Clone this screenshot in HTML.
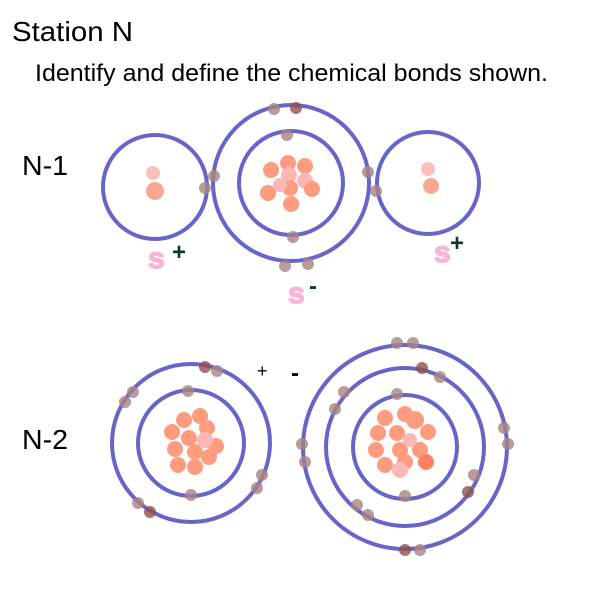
<!DOCTYPE html>
<html><head><style>body{margin:0;background:#fff}svg{display:block}</style></head><body>
<svg width="600" height="600" xmlns="http://www.w3.org/2000/svg" font-family="Liberation Sans, sans-serif">
<text x="12" y="41" font-size="28" textLength="121" lengthAdjust="spacingAndGlyphs">Station N</text>
<text x="35" y="81" font-size="24" textLength="513" lengthAdjust="spacingAndGlyphs">Identify and define the chemical bonds shown.</text>
<text x="22" y="175" font-size="28" textLength="46" lengthAdjust="spacingAndGlyphs">N-1</text>
<text x="22" y="449" font-size="28" textLength="46" lengthAdjust="spacingAndGlyphs">N-2</text>
<g fill="none" stroke="#6666c8" stroke-width="4">
<circle cx="155" cy="187" r="52"/>
<circle cx="291" cy="183" r="78"/>
<circle cx="291" cy="183" r="52"/>
<circle cx="428" cy="183" r="51"/>
<circle cx="191" cy="443" r="79"/>
<circle cx="191" cy="443" r="53"/>
<circle cx="405" cy="447" r="52"/>
<circle cx="405" cy="447" r="79"/>
<circle cx="405" cy="447" r="102"/>
</g>
<g fill="#f79a7e" opacity="0.85">
<circle cx="153" cy="173" r="7" fill="#fbb6b0"/>
<circle cx="155" cy="191" r="9"/>
<circle cx="428" cy="169" r="7" fill="#fbb6b0"/>
<circle cx="431" cy="186" r="8"/>
</g>
<g fill="#ff7a55" opacity="0.75">
<circle cx="288" cy="163" r="8"/><circle cx="271" cy="170" r="8"/><circle cx="305" cy="166" r="8"/>
<circle cx="289" cy="175" r="8" fill="#fca0a0"/><circle cx="305" cy="181" r="8" fill="#fca0a0"/>
<circle cx="268" cy="193" r="8"/><circle cx="290" cy="188" r="8"/><circle cx="312" cy="189" r="8"/>
<circle cx="291" cy="204" r="8"/><circle cx="280" cy="185" r="7" fill="#fca0a0"/>
<circle cx="200" cy="416" r="8"/><circle cx="184" cy="420" r="8"/><circle cx="207" cy="428" r="8"/>
<circle cx="172" cy="432" r="8"/><circle cx="189" cy="438" r="8"/><circle cx="216" cy="446" r="8"/>
<circle cx="175" cy="449" r="8"/><circle cx="195" cy="452" r="8"/><circle cx="209" cy="457" r="8"/>
<circle cx="178" cy="465" r="8"/><circle cx="195" cy="467" r="8"/><circle cx="205" cy="440" r="8" fill="#fca0a0"/>
<circle cx="385" cy="418" r="8"/><circle cx="405" cy="414" r="8"/><circle cx="415" cy="420" r="9"/>
<circle cx="378" cy="433" r="8"/><circle cx="397" cy="433" r="8"/><circle cx="428" cy="432" r="8"/>
<circle cx="376" cy="450" r="8"/><circle cx="400" cy="450" r="8"/><circle cx="420" cy="450" r="8"/>
<circle cx="385" cy="465" r="8"/><circle cx="405" cy="462" r="8"/><circle cx="426" cy="462" r="8" fill="#ff5a30"/>
<circle cx="400" cy="470" r="8" fill="#fca0a0"/><circle cx="410" cy="440" r="7" fill="#fca0a0"/>
</g>
<g fill="#a88484" opacity="0.8">
<circle cx="274" cy="109" r="6"/><circle cx="296" cy="108" r="6" fill="#905050"/><circle cx="287" cy="135" r="6"/>
<circle cx="293" cy="237" r="6"/><circle cx="285" cy="266" r="6"/><circle cx="308" cy="264" r="6"/>
<circle cx="214" cy="176" r="6"/><circle cx="205" cy="188" r="6"/><circle cx="368" cy="172" r="6"/><circle cx="376" cy="191" r="6"/>
<circle cx="205" cy="367" r="6" fill="#905050"/><circle cx="217" cy="371" r="6"/><circle cx="133" cy="392" r="6"/><circle cx="125" cy="402" r="6"/>
<circle cx="188" cy="391" r="6"/><circle cx="191" cy="495" r="6"/><circle cx="262" cy="475" r="6"/><circle cx="257" cy="488" r="6"/>
<circle cx="138" cy="503" r="6"/><circle cx="150" cy="512" r="6" fill="#905050"/>
<circle cx="397" cy="343" r="6"/><circle cx="413" cy="343" r="6"/><circle cx="422" cy="368" r="6" fill="#905050"/><circle cx="440" cy="377" r="6"/>
<circle cx="344" cy="392" r="6"/><circle cx="335" cy="409" r="6"/><circle cx="397" cy="394" r="6"/><circle cx="504" cy="428" r="6"/>
<circle cx="508" cy="444" r="6"/><circle cx="302" cy="444" r="6"/><circle cx="305" cy="462" r="6"/><circle cx="474" cy="475" r="6"/>
<circle cx="468" cy="492" r="6" fill="#905050"/><circle cx="357" cy="505" r="6"/><circle cx="368" cy="515" r="6"/>
<circle cx="405" cy="550" r="6" fill="#905050"/><circle cx="420" cy="550" r="6"/><circle cx="405" cy="496" r="6"/>
</g>
<g font-weight="bold">
<g fill="#f9b4d8" stroke="#f9b4d8" stroke-width="1.5" font-size="30">
<text x="148" y="268">s</text>
<text x="288" y="303">s</text>
<text x="434" y="262">s</text>
</g>
<text x="172" y="260" font-size="24" fill="#0a3a2a">+</text>
<text x="309" y="294" font-size="24" fill="#0a3a2a">-</text>
<text x="450" y="251" font-size="24" fill="#0a3a2a">+</text>
<text x="257" y="377" font-size="18" font-weight="normal" fill="#000">+</text>
<text x="291" y="381" font-size="24" fill="#000">-</text>
</g>
</svg>
</body></html>
